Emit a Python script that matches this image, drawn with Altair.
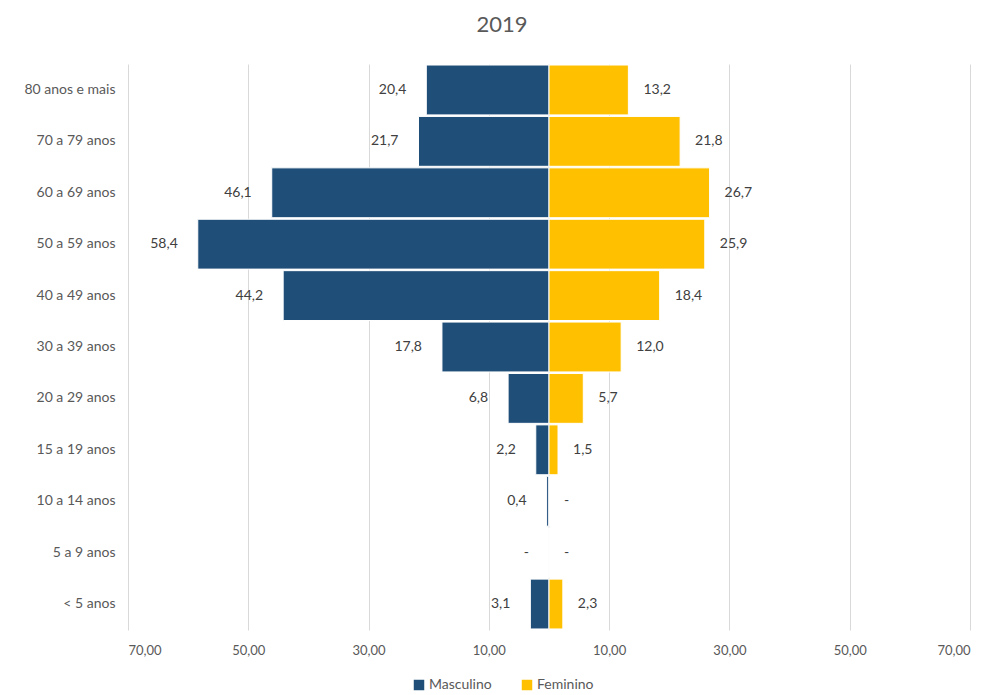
import altair as alt
import pandas as pd

ages = ["80 anos e mais", "70 a 79 anos", "60 a 69 anos", "50 a 59 anos",
        "40 a 49 anos", "30 a 39 anos", "20 a 29 anos", "15 a 19 anos",
        "10 a 14 anos", "5 a 9 anos", "< 5 anos"]
masculino = [20.4, 21.7, 46.1, 58.4, 44.2, 17.8, 6.8, 2.2, 0.4, 0.0, 3.1]
feminino = [13.2, 21.8, 26.7, 25.9, 18.4, 12.0, 5.7, 1.5, 0.0, 0.0, 2.3]
x_ticks = [-70, -50, -30, -10, 10, 30, 50, 70]
series = ["Masculino", "Feminino"]
colors = ["#1F4E79", "#FFC000"]


def fmt(v):
    return "-" if v == 0 else f"{v:.1f}".replace(".", ",")


rows = []
for a, m, f in zip(ages, masculino, feminino):
    rows.append({"idade": a, "sexo": "Masculino", "valor": -m, "rotulo": fmt(m)})
    rows.append({"idade": a, "sexo": "Feminino", "valor": f, "rotulo": fmt(f)})
df = pd.DataFrame(rows)

FONT = "Lato"
GREY = "#595959"

x_enc = alt.X(
    "valor:Q",
    scale=alt.Scale(domain=[-70, 70], nice=False, zero=False),
    axis=alt.Axis(
        values=x_ticks,
        labelExpr="replace(format(abs(datum.value), '.2f'), '.', ',')",
        grid=True, gridColor="#d9d9d9", domain=False, ticks=False,
        labelColor=GREY, labelFont=FONT, labelFontSize=13, labelPadding=14,
        title=None,
    ),
    stack=None,
)
y_enc = alt.Y(
    "idade:N", sort=ages,
    scale=alt.Scale(paddingInner=0.03, paddingOuter=0.02),
    axis=alt.Axis(title=None, domain=False, ticks=False, labelColor=GREY,
                  labelFont=FONT, labelFontSize=14, labelPadding=13),
)

base = alt.Chart(df)

center = alt.Chart(pd.DataFrame({"x": [0]})).mark_rule(color="#d9d9d9").encode(x="x:Q")

bars = base.mark_bar(stroke="white", strokeWidth=1).encode(
    x=x_enc, y=y_enc,
    color=alt.Color(
        "sexo:N",
        scale=alt.Scale(domain=series, range=colors),
        legend=alt.Legend(
            title=None, orient="none", legendX=284, legendY=614,
            direction="horizontal", symbolType="square", symbolSize=110,
            symbolStrokeWidth=0, labelFont=FONT, labelFontSize=14,
            labelColor=GREY, columnPadding=28, labelOffset=3,
        ),
    ),
)

lab_m = base.transform_filter(alt.datum.sexo == "Masculino").mark_text(
    align="right", dx=-20, font=FONT, fontSize=14, color="#404040"
).encode(x="valor:Q", y=alt.Y("idade:N", sort=ages), text="rotulo:N")

lab_f = base.transform_filter(alt.datum.sexo == "Feminino").mark_text(
    align="left", dx=15, font=FONT, fontSize=14, color="#404040"
).encode(x="valor:Q", y=alt.Y("idade:N", sort=ages), text="rotulo:N")

chart = alt.layer(center, bars, lab_m, lab_f).properties(
    width=842, height=566,
    autosize=alt.AutoSizeParams(type="none"),
    padding={"left": 120, "top": 56, "right": 12, "bottom": 65},
    title=alt.TitleParams("2019", fontSize=22, color=GREY, font=FONT,
                          fontWeight="normal", offset=27, dx=-47,
                          anchor="middle"),
).configure_view(stroke=None)

chart.save("out.html", embed_options={"renderer": "svg", "actions": False})
